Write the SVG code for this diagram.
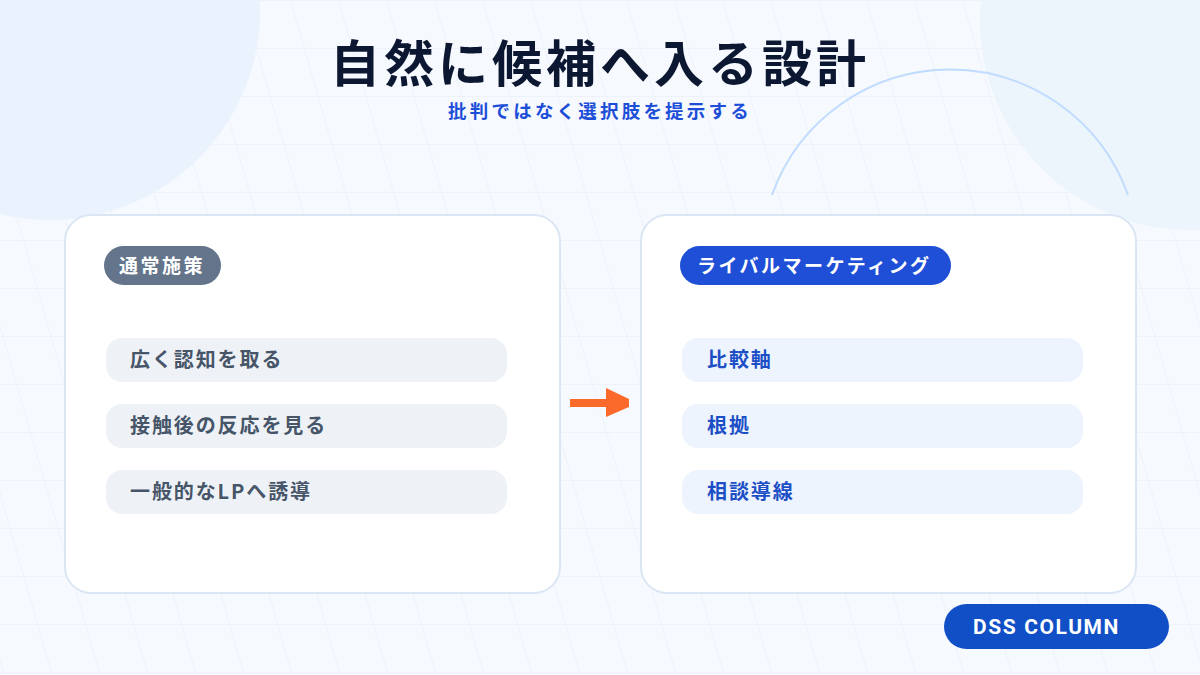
<svg xmlns="http://www.w3.org/2000/svg" width="1200" height="675" viewBox="0 0 1200 675">
  <defs>
    <pattern id="grid" width="48" height="48" patternUnits="userSpaceOnUse" patternTransform="skewX(16) translate(2,0)">
      <path d="M0 0 H48 M0 0 V48" fill="none" stroke="#e5edf8" stroke-width="1"/>
    </pattern>
    <style>
      .jp { font-family: "Noto Sans CJK JP", "Noto Sans", sans-serif; font-weight: 700; }
      .card { fill: #ffffff; stroke: #dbe6f5; stroke-width: 2; }
      .itemL { fill: #eef2f7; }
      .itemR { fill: #edf4fe; }
      .tL { fill: #475569; font-size: 20px; letter-spacing: 1.9px; }
      .tR { fill: #1c4ec6; font-size: 20px; letter-spacing: 1.9px; }
      .badgeT { fill: #ffffff; font-size: 19px; letter-spacing: 2.5px; }
    </style>
  </defs>

  <rect width="1200" height="675" fill="#f6f9fe"/>
  <rect width="1200" height="675" fill="url(#grid)"/>

  <g id="decor">
    <circle cx="50" cy="10" r="210" fill="#eaf2fe"/>
    <circle cx="1190" cy="20" r="210" fill="#ecf4fc"/>
    <path d="M772 195 A189 189 0 0 1 1128 195" fill="none" stroke="#bfdbfe" stroke-width="2"/>
  </g>

  <g id="title">
    <text x="600" y="82" text-anchor="middle" class="jp" font-size="50" letter-spacing="4" fill="#0c1731">自然に候補へ入る設計</text>
    <text x="600" y="118" text-anchor="middle" class="jp" font-size="18.5" letter-spacing="3.2" fill="#1d4ed8">批判ではなく選択肢を提示する</text>
  </g>

  <g id="card-left">
    <rect x="65" y="215" width="495" height="378" rx="26" class="card"/>
    <rect x="104" y="246" width="117" height="39" rx="19.5" fill="#64748b"/>
    <text x="119" y="273" class="jp badgeT">通常施策</text>
    <rect x="106" y="338" width="401" height="44" rx="16" class="itemL"/>
    <text x="130" y="367" class="jp tL">広く認知を取る</text>
    <rect x="106" y="404" width="401" height="44" rx="16" class="itemL"/>
    <text x="130" y="433" class="jp tL">接触後の反応を見る</text>
    <rect x="106" y="470" width="401" height="44" rx="16" class="itemL"/>
    <text x="130" y="499" class="jp tL">一般的なLPへ誘導</text>
  </g>

  <g id="card-right">
    <rect x="641" y="215" width="495" height="378" rx="26" class="card"/>
    <rect x="680" y="246" width="271" height="39" rx="19.5" fill="#1f4fd6"/>
    <text x="697" y="273" class="jp badgeT" letter-spacing="4.2">ライバルマーケティング</text>
    <rect x="682" y="338" width="401" height="44" rx="16" class="itemR"/>
    <text x="707" y="367" class="jp tR">比較軸</text>
    <rect x="682" y="404" width="401" height="44" rx="16" class="itemR"/>
    <text x="707" y="433" class="jp tR">根拠</text>
    <rect x="682" y="470" width="401" height="44" rx="16" class="itemR"/>
    <text x="707" y="499" class="jp tR">相談導線</text>
  </g>

  <g id="connectors">
    <rect x="570" y="399" width="59" height="8" fill="#fb6a2a"/>
    <polygon points="606,388 629,399 629,407 606,417" fill="#fb6a2a"/>
  </g>

  <g id="footer-badge">
    <rect x="944" y="604" width="225" height="45" rx="22.5" fill="#114fc6"/>
    <text x="973" y="634" font-family="Roboto, 'Liberation Sans', sans-serif" font-weight="700" font-size="21" letter-spacing="1.6" fill="#ffffff">DSS COLUMN</text>
  </g>
</svg>
